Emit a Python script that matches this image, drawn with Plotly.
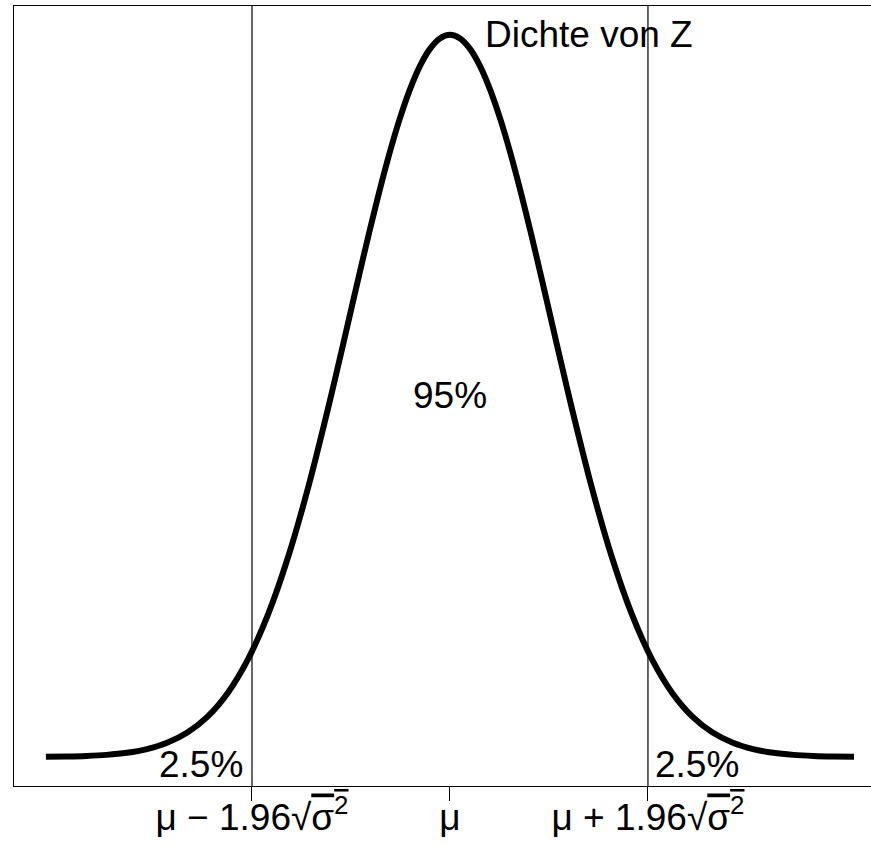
import plotly.graph_objects as go

# Standard normal density (x in units of sigma)
x_vals = [-4.0, -3.8, -3.6, -3.4, -3.2, -3.0, -2.8, -2.6, -2.4, -2.2, -2.0, -1.8, -1.6, -1.4, -1.2,
          -1.1, -1.0, -0.9, -0.8, -0.7, -0.6, -0.5, -0.4, -0.3, -0.2, -0.1, 0.0,
          0.1, 0.2, 0.3, 0.4, 0.5, 0.6, 0.7, 0.8, 0.9, 1.0, 1.1,
          1.2, 1.4, 1.6, 1.8, 2.0, 2.2, 2.4, 2.6, 2.8, 3.0, 3.2, 3.4, 3.6, 3.8, 4.0]
density = [0.00013, 0.00029, 0.00061, 0.00123, 0.00238, 0.00443, 0.00792, 0.01358, 0.02239, 0.03547,
           0.05399, 0.07895, 0.11092, 0.14973, 0.19419,
           0.21785, 0.24197, 0.26609, 0.28969, 0.31225, 0.33322, 0.35207, 0.36827, 0.38139, 0.39104,
           0.39695, 0.39894,
           0.39695, 0.39104, 0.38139, 0.36827, 0.35207, 0.33322, 0.31225, 0.28969, 0.26609, 0.24197,
           0.21785,
           0.19419, 0.14973, 0.11092, 0.07895, 0.05399, 0.03547, 0.02239, 0.01358, 0.00792, 0.00443,
           0.00238, 0.00123, 0.00061, 0.00029, 0.00013]

crit = 1.96
tick_vals = [-crit, 0.0, crit]
tick_text = ["μ − 1.96√<span style='text-decoration:overline'>σ<sup>2</sup></span>",
             "μ",
             "μ + 1.96√<span style='text-decoration:overline'>σ<sup>2</sup></span>"]
peak = 0.39894
label_curve = "Dichte von Z"
label_mid = "95%"
label_tail = "2.5%"
mid_y = 0.2

FONT = "Liberation Sans, Arial, Helvetica, sans-serif"
FS = 37

fig = go.Figure()
fig.add_trace(go.Scatter(x=x_vals, y=density, mode="lines",
                         line=dict(color="black", width=6, shape="spline", smoothing=0.8),
                         hoverinfo="skip", showlegend=False))

for xv in (-crit, crit):
    fig.add_shape(type="line", xref="x", yref="paper", x0=xv, x1=xv, y0=0, y1=1,
                  line=dict(color="black", width=1.2))

fig.add_annotation(x=0, y=peak, text=label_curve, showarrow=False, xanchor="left", yanchor="middle",
                   xshift=33, yshift=0, font=dict(family=FONT, size=FS, color="black"))
fig.add_annotation(x=0, y=mid_y, text=label_mid, showarrow=False, xanchor="center", yanchor="middle",
                   font=dict(family=FONT, size=FS, color="black"))
fig.add_annotation(x=-crit, y=0, text=label_tail, showarrow=False, xanchor="right", yanchor="middle",
                   xshift=-7, yshift=-7, font=dict(family=FONT, size=FS, color="black"))
fig.add_annotation(x=crit, y=0, text=label_tail, showarrow=False, xanchor="left", yanchor="middle",
                   xshift=5, yshift=-7, font=dict(family=FONT, size=FS, color="black"))

fig.update_layout(
    width=871, height=845,
    margin=dict(l=14, r=0, t=6, b=59),
    paper_bgcolor="white", plot_bgcolor="white",
    font=dict(family=FONT, size=FS, color="black"),
    xaxis=dict(range=[-4.316, 4.168], showgrid=False, zeroline=False, automargin=False,
               showline=True, linecolor="black", linewidth=1.2, mirror=True,
               tickmode="array", tickvals=tick_vals, ticktext=tick_text,
               ticks="outside", ticklen=14, tickwidth=1.2, tickcolor="black",
               ticklabelstandoff=-16,
               tickfont=dict(family=FONT, size=FS, color="black")),
    yaxis=dict(range=[-0.01596, 0.41486], showgrid=False, zeroline=False, automargin=False,
               showline=True, linecolor="black", linewidth=1.2, mirror=False,
               showticklabels=False, ticks=""),
)

fig.write_html("out.html")
